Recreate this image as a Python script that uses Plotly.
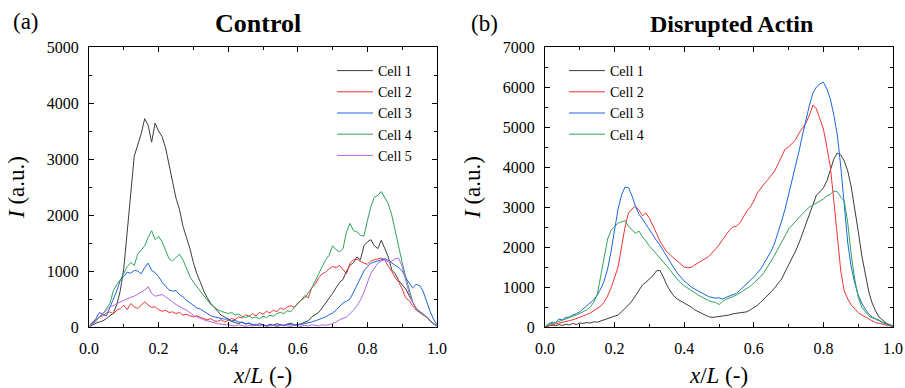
import plotly.graph_objects as go

# sampling grid of normalised position x/L
x_pos = [i / 100 for i in range(101)]

# ---------------- Control (a) ----------------
ctrl_cell1 = [0, 40, 70, 90, 110, 150, 200, 250, 400, 650,
              1050, 1700, 2450, 3050, 3250, 3450, 3720, 3600, 3300, 3640,
              3500, 3400, 3200, 2900, 2650, 2300, 2100, 1800, 1600, 1400,
              1150, 950, 800, 640, 520, 420, 350, 270, 210, 180,
              130, 100, 80, 60, 90, 50, 70, 40, 30, 60,
              40, 20, 50, 30, 60, 40, 20, 50, 70, 40,
              40, 60, 90, 110, 180, 220, 260, 340, 420, 520,
              600, 700, 800, 850, 1000, 1100, 1150, 1250, 1200, 1450,
              1520, 1560, 1450, 1400, 1550, 1400, 1250, 1020, 950, 830,
              760, 680, 560, 450, 330, 280, 220, 170, 120, 60, 20]
ctrl_cell2 = [0, 90, 130, 180, 200, 250, 270, 230, 300, 330,
              390, 310, 420, 360, 330, 400, 450, 390, 350, 360,
              310, 280, 300, 260, 270, 240, 260, 210, 230, 200,
              180, 200, 170, 150, 130, 150, 110, 100, 130, 90,
              120, 150, 130, 180, 160, 220, 190, 240, 200, 260,
              230, 280, 250, 300, 270, 340, 310, 360, 380, 350,
              430, 480, 560, 520, 700, 760, 880, 950, 980, 1040,
              1080, 1060, 1100, 1020, 950, 1140, 1200, 1210, 1170, 1140,
              1120, 1180, 1200, 1210, 1230, 1200, 1080, 990, 880, 800,
              680, 520, 470, 380, 300, 260, 220, 180, 110, 60, 20]
ctrl_cell3 = [0, 80, 150, 260, 220, 200, 350, 480, 650, 840,
              900, 980, 960, 1010, 1000, 950, 1060, 1140, 1010, 970,
              900, 800, 720, 660, 640, 650, 580, 540, 480, 430,
              380, 340, 320, 280, 240, 200, 180, 170, 160, 140,
              150, 110, 120, 90, 80, 60, 70, 40, 50, 30,
              40, 20, 40, 30, 20, 40, 30, 50, 40, 30,
              50, 40, 60, 70, 90, 110, 130, 160, 180, 220,
              250, 300, 360, 430, 460, 500, 620, 740, 880, 1000,
              1080, 1140, 1160, 1180, 1200, 1220, 1190, 1140, 1100, 1060,
              1000, 880, 780, 700, 760, 740, 640, 440, 280, 140, 40]
ctrl_cell4 = [0, 60, 120, 180, 240, 330, 420, 650, 760, 840,
              950, 1080, 1150, 1100, 1300, 1380, 1450, 1600, 1720, 1560,
              1620, 1520, 1360, 1220, 1180, 1250, 1300, 1200, 1050, 900,
              800, 720, 650, 560, 480, 400, 360, 310, 280, 260,
              240, 260, 210, 230, 190, 170, 200, 160, 180, 150,
              190, 170, 210, 190, 240, 260, 240, 290, 270, 350,
              420, 480, 520, 600, 700, 820, 960, 1080, 1200, 1280,
              1450, 1380, 1340, 1400, 1700, 1850, 1720, 1700, 1640, 1620,
              1900, 2150, 2320, 2350, 2420, 2300, 2200, 2000, 1700, 1400,
              1150, 900, 650, 450, 330, 260, 220, 180, 120, 60, 20]
ctrl_cell5 = [0, 50, 100, 180, 250, 300, 360, 380, 420, 450,
              480, 500, 530, 550, 590, 620, 660, 720, 600, 550,
              560, 580, 540, 500, 450, 400, 360, 330, 300, 250,
              210, 180, 150, 130, 110, 90, 80, 60, 50, 40,
              40, 30, 20, 40, 30, 10, 30, 20, 40, 20,
              30, 10, 20, 30, 10, 20, 40, 20, 10, 30,
              20, 10, 30, 20, 40, 30, 20, 40, 30, 40,
              60, 90, 130, 150, 180, 240, 300, 380, 480, 620,
              780, 960, 1050, 1140, 1180, 1200, 1160, 1180, 1220, 1230,
              1080, 850, 600, 450, 340, 280, 240, 180, 100, 50, 10]

# ---------------- Disrupted Actin (b) ----------------
dis_cell1 = [0, 20, 50, 30, 60, 40, 70, 50, 90, 60,
             100, 90, 110, 100, 130, 120, 150, 170, 200, 230,
             260, 300, 380, 460, 550, 650, 780, 920, 1050, 1120,
             1200, 1280, 1400, 1420, 1250, 1050, 900, 780, 700, 650,
             600, 560, 500, 430, 380, 340, 300, 260, 240, 250,
             260, 270, 290, 300, 330, 340, 350, 360, 380, 430,
             480, 540, 620, 700, 780, 880, 980, 1080, 1200, 1380,
             1550, 1700, 1900, 2100, 2350, 2600, 2850, 3100, 3300, 3380,
             3480, 3650, 3900, 4200, 4350, 4300, 4150, 3900, 3500, 3000,
             2400, 1800, 1300, 900, 600, 400, 250, 170, 100, 60, 30]
dis_cell2 = [0, 40, 60, 75, 100, 120, 140, 160, 180, 210,
             240, 270, 310, 350, 410, 460, 520, 620, 780, 980,
             1250, 1500, 2000, 2500, 2850, 2950, 3020, 2920, 2780, 2850,
             2720, 2550, 2350, 2150, 2000, 1880, 1800, 1720, 1650, 1570,
             1500, 1480, 1490, 1550, 1600, 1650, 1700, 1760, 1850, 1950,
             2050, 2180, 2300, 2420, 2500, 2520, 2600, 2750, 2900, 3000,
             3150, 3350, 3480, 3580, 3680, 3780, 3900, 4080, 4250, 4450,
             4500, 4580, 4680, 4850, 4980, 5100, 5300, 5550, 5450, 5200,
             4950, 4500, 4000, 3150, 2200, 1400, 900, 700, 550, 450,
             360, 300, 250, 200, 150, 110, 90, 70, 50, 30, 10]
dis_cell3 = [0, 80, 120, 100, 200, 180, 240, 250, 300, 330,
             380, 450, 520, 600, 680, 800, 950, 1150, 1450, 1900,
             2450, 2950, 3300, 3500, 3480, 3280, 3020, 2820, 2700, 2560,
             2420, 2300, 2170, 2050, 1900, 1750, 1600, 1480, 1350, 1250,
             1150, 1080, 1000, 950, 900, 850, 800, 760, 740, 720,
             730, 700, 740, 780, 800, 840, 920, 1000, 1080, 1150,
             1250, 1350, 1450, 1600, 1750, 1900, 2100, 2350, 2650, 2950,
             3300, 3650, 4000, 4400, 4800, 5200, 5550, 5850, 6000, 6080,
             6120, 5950, 5700, 5300, 4800, 4000, 3000, 2100, 1500, 1100,
             800, 600, 450, 330, 250, 200, 150, 110, 80, 50, 20]
dis_cell4 = [0, 60, 90, 110, 140, 170, 200, 240, 270, 300,
             340, 380, 430, 500, 620, 800, 1300, 1800, 2200, 2420,
             2500, 2600, 2630, 2660, 2520, 2420, 2340, 2400, 2250, 2150,
             2020, 1930, 1830, 1730, 1620, 1520, 1420, 1300, 1200, 1100,
             1030, 980, 920, 860, 800, 750, 700, 660, 630, 620,
             560, 640, 690, 720, 760, 800, 850, 900, 960, 1020,
             1100, 1170, 1260, 1370, 1500, 1650, 1800, 1950, 2100, 2280,
             2450, 2550, 2650, 2750, 2830, 2920, 3000, 3050, 3100, 3150,
             3200, 3280, 3320, 3400, 3380, 3250, 3150, 2600, 1800, 1200,
             750, 500, 380, 280, 230, 200, 170, 120, 80, 50, 20]

ctrl_series = [("Cell 1", ctrl_cell1, "#3c3c3c"),
               ("Cell 2", ctrl_cell2, "#ee3535"),
               ("Cell 3", ctrl_cell3, "#1c66dc"),
               ("Cell 4", ctrl_cell4, "#2fa35a"),
               ("Cell 5", ctrl_cell5, "#b068e6")]
dis_series = [("Cell 1", dis_cell1, "#3c3c3c"),
              ("Cell 2", dis_cell2, "#ee3535"),
              ("Cell 3", dis_cell3, "#1c66dc"),
              ("Cell 4", dis_cell4, "#2fa35a")]

x_ticks = [0.0, 0.2, 0.4, 0.6, 0.8, 1.0]
ctrl_y_ticks = [0, 1000, 2000, 3000, 4000, 5000]
dis_y_ticks = [0, 1000, 2000, 3000, 4000, 5000, 6000, 7000]

FONT = "Liberation Serif"
W, H = 905, 388

fig = go.Figure()
for name, vals, col in ctrl_series:
    fig.add_trace(go.Scatter(x=x_pos, y=vals, mode="lines", name=name,
                             line=dict(color=col, width=1),
                             xaxis="x", yaxis="y", legend="legend"))
for name, vals, col in dis_series:
    fig.add_trace(go.Scatter(x=x_pos, y=vals, mode="lines", name=name,
                             line=dict(color=col, width=1),
                             xaxis="x2", yaxis="y2", legend="legend2"))

def px_x(p):
    return p / W

def px_y(p):
    return 1 - p / H

axis_common = dict(showline=True, linecolor="black", linewidth=1,
                   mirror="ticks", ticks="inside", ticklen=5,
                   tickwidth=1, tickcolor="black", showgrid=False,
                   zeroline=False, automargin=False,
                   tickfont=dict(family=FONT, size=16, color="black"))

xa = dict(axis_common, range=[0, 1], tickvals=x_ticks, tickformat=".1f",
          ticklabelstandoff=7,
          minor=dict(ticks="inside", ticklen=3, dtick=0.1, tick0=0,
                     tickcolor="black", showgrid=False),
          title=dict(text="<i>x</i>/<i>L</i> (-)",
                     font=dict(family=FONT, size=23, color="black"),
                     standoff=15))

ya_title = dict(text="<i>I</i> (a.u.)",
                font=dict(family=FONT, size=23, color="black"),
                standoff=15)

fig.update_layout(
    width=W, height=H,
    margin=dict(l=0, r=0, t=0, b=0, pad=0, autoexpand=False),
    paper_bgcolor="white", plot_bgcolor="white",
    showlegend=True,
    xaxis=dict(xa, domain=[px_x(89), px_x(437)], anchor="y"),
    yaxis=dict(axis_common, domain=[px_y(327), px_y(47)], anchor="x",
               range=[0, 5000], tickvals=ctrl_y_ticks, tickformat="d",
               ticklabelstandoff=6,
               minor=dict(ticks="inside", ticklen=3, dtick=500, tick0=0,
                          tickcolor="black", showgrid=False),
               title=ya_title),
    xaxis2=dict(xa, domain=[px_x(545), px_x(893)], anchor="y2"),
    yaxis2=dict(axis_common, domain=[px_y(327), px_y(47)], anchor="x2",
                range=[0, 7000], tickvals=dis_y_ticks, tickformat="d",
                ticklabelstandoff=6,
                minor=dict(ticks="inside", ticklen=3, dtick=500, tick0=0,
                           tickcolor="black", showgrid=False),
                title=ya_title),
    legend=dict(x=px_x(332), y=px_y(55), xanchor="left", yanchor="top",
                bgcolor="rgba(0,0,0,0)", borderwidth=0,
                font=dict(family=FONT, size=14, color="black"),
                tracegroupgap=0, itemwidth=36),
    legend2=dict(x=px_x(564), y=px_y(55), xanchor="left", yanchor="top",
                 bgcolor="rgba(0,0,0,0)", borderwidth=0,
                 font=dict(family=FONT, size=14, color="black"),
                 tracegroupgap=0, itemwidth=36),
    annotations=[
        dict(text="(a)", x=px_x(11), y=px_y(21), xref="paper", yref="paper",
             xanchor="left", yanchor="middle", showarrow=False,
             font=dict(family=FONT, size=23, color="black")),
        dict(text="<b>Control</b>", x=px_x(258), y=px_y(23), xref="paper",
             yref="paper", xanchor="center", yanchor="middle",
             showarrow=False, font=dict(family=FONT, size=26, color="black")),
        dict(text="(b)", x=px_x(469), y=px_y(23), xref="paper", yref="paper",
             xanchor="left", yanchor="middle", showarrow=False,
             font=dict(family=FONT, size=23, color="black")),
        dict(text="<b>Disrupted Actin</b>", x=px_x(731), y=px_y(24),
             xref="paper", yref="paper", xanchor="center", yanchor="middle",
             showarrow=False, font=dict(family=FONT, size=24, color="black")),
    ],
)

fig.write_html("out.html")
